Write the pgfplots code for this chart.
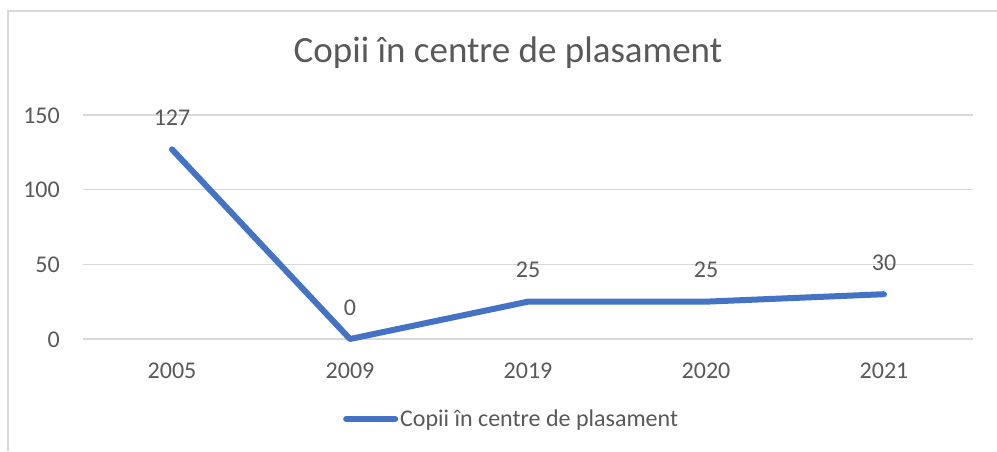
\documentclass[border=0pt]{standalone}
\usepackage{fontspec}
\setmainfont{Carlito}
\usepackage{pgfplots}
\pgfplotsset{compat=1.18}
\definecolor{serieblue}{HTML}{4472C4}
\definecolor{gridc}{HTML}{D9D9D9}
\definecolor{txt}{HTML}{595959}
\definecolor{framec}{HTML}{D9D9D9}
\begin{document}
\begin{tikzpicture}[x=1pt,y=1pt]
\begin{scope}[shift={(-83,-112)}]
\path[use as bounding box] (0,0) rectangle (997,451);
\fill[white] (0,0) rectangle (997,451);
\draw[framec, line width=1.5pt] (8,0) -- (8,440) -- (997,440);
\node[txt, font=\fontsize{37}{40}\selectfont, anchor=base] at (508,389) {Copii în centre de plasament};
\end{scope}
\begin{axis}[
  scale only axis, width=890pt, height=224pt,
  xmin=-0.5, xmax=4.5, ymin=0, ymax=150,
  xtick={0,1,2,3,4},
  xticklabels={2005,2009,2019,2020,2021},
  ytick={0,50,100,150},
  axis line style={draw=none},
  major tick style={draw=none},
  ymajorgrids,
  grid style={gridc, line width=1.3pt},
  tick label style={txt, font=\fontsize{24}{26}\selectfont, inner sep=0pt},
  /pgf/number format/assume math mode=true,
  xticklabel style={anchor=base, yshift=-39pt},
  yticklabel style={anchor=base east, xshift=-23pt, yshift=-8pt},
  nodes near coords,
  every node near coord/.append style={txt, font=\fontsize{24}{26}\selectfont, anchor=base, yshift=24pt, inner sep=0pt},
  legend style={at={(axis description cs:0.2921,-0.357)}, anchor=west, draw=none, fill=none, inner sep=0pt, font=\fontsize{24}{26}\selectfont, text=txt, nodes={inner sep=2pt}},
  legend image code/.code={\draw[serieblue, line width=6pt, line cap=round] (3pt,0pt) -- (52pt,0pt);},
  clip=false,
]
\addplot[serieblue, line width=6pt, line cap=round, line join=round, mark=none] coordinates {
  (0,127) (1,0) (2,25) (3,25) (4,30)
};
\addlegendentry{Copii în centre de plasament}
\end{axis}
\end{tikzpicture}
\end{document}
